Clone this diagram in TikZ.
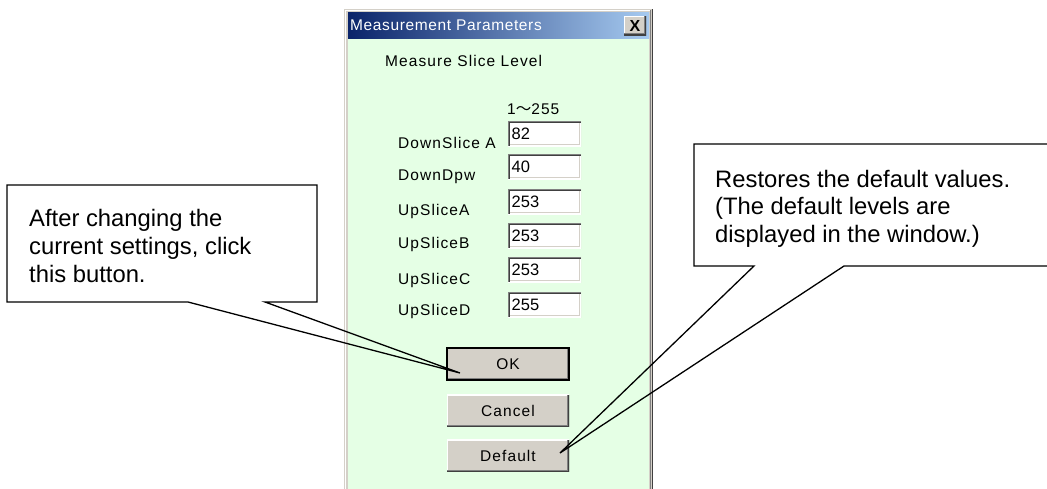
\documentclass[tikz,border=0pt]{standalone}
\usepackage{fontspec}
\setmainfont{Liberation Sans}
\newfontfamily\uifont[LetterSpace=7]{Liberation Sans}
\newfontfamily\titlefont[LetterSpace=4]{Liberation Sans}
\newfontfamily\cjkfont{Noto Sans CJK JP}
\definecolor{titleL}{HTML}{0A246A}
\definecolor{titleR}{HTML}{A6CAF0}
\definecolor{bodygreen}{RGB}{229,255,229}
\definecolor{btnface}{HTML}{D4D0C8}
\definecolor{btnshadow}{HTML}{808080}
\definecolor{btndark}{HTML}{404040}
\begin{document}
\begin{tikzpicture}[x=1pt,y=-1pt,
  uitext/.style={font=\uifont\fontsize{15.5}{18}\selectfont, inner sep=0pt, text=black},
  valtext/.style={font=\fontsize{16.5}{19}\selectfont, inner sep=0pt, anchor=base west},
  calltext/.style={font=\fontsize{23.8}{27.5}\selectfont, inner sep=0pt, anchor=base west},
  callout/.style={draw=black, line width=1.3pt, line join=miter},
  raised/.style={fill=btnface, inner sep=0pt, path picture={
     \draw[white,line width=2pt] (path picture bounding box.south west) -- (path picture bounding box.north west) -- (path picture bounding box.north east);
     \draw[btnshadow,line width=4pt] (path picture bounding box.south west) -- (path picture bounding box.south east) -- (path picture bounding box.north east);
     \draw[btndark,line width=2pt] (path picture bounding box.south west) -- (path picture bounding box.south east) -- (path picture bounding box.north east);
  }},
  uibtn/.style={raised, uitext, minimum width=122pt, minimum height=32pt},
  field/.style={fill=white, minimum width=73pt, minimum height=25pt, inner sep=0pt, anchor=north west, path picture={
     \draw[btnface,line width=4pt] (path picture bounding box.south west) -- (path picture bounding box.south east) -- (path picture bounding box.north east);
     \draw[white,line width=2pt] (path picture bounding box.south west) -- (path picture bounding box.south east) -- (path picture bounding box.north east);
     \draw[btndark,line width=4pt] (path picture bounding box.south west) -- (path picture bounding box.north west) -- (path picture bounding box.north east);
     \draw[btnshadow,line width=2pt] (path picture bounding box.south west) -- (path picture bounding box.north west) -- (path picture bounding box.north east);
  }},
  lbl/.style={uitext, anchor=base west},
]
\useasboundingbox (0,0) rectangle (1047,488);
\fill[white] (0,0) rectangle (1047,488);

% window frame
\fill[btnface] (344,9) rectangle (653,500);
\draw[white, line width=1pt] (345.5,500) -- (345.5,10.5) -- (651,10.5);
\draw[btnshadow, line width=1pt] (650.5,10) -- (650.5,500);
\draw[btndark, line width=1pt] (652.5,9) -- (652.5,500);
\fill[bodygreen] (348,38) rectangle (649,500);
\shade[left color=titleL, right color=titleR] (348,12) rectangle (649,38);

% title bar
\node[inner sep=0pt, text=white, anchor=base west, font=\titlefont\fontsize{15.5}{18}\selectfont] (title) at (350,30.5) {Measurement Parameters};
\node[raised, minimum width=22pt, minimum height=19pt] (close) at (635,25.5) {};
\node[font=\bfseries\fontsize{16}{18}\selectfont, inner sep=0pt] (closex) at (635,25.5) {X};

% texts
\node[lbl] (heading) at (385,66) {Measure Slice Level};
\node[lbl] (range) at (507,114) {1{\cjkfont ～}255};

\node[lbl] (l1) at (398,148) {DownSlice A};
\node[lbl] (l2) at (398,180) {DownDpw};
\node[lbl] (l3) at (398,215) {UpSliceA};
\node[lbl] (l4) at (398,248) {UpSliceB};
\node[lbl] (l5) at (398,284) {UpSliceC};
\node[lbl] (l6) at (398,315) {UpSliceD};

\node[field] (f1) at (508,121) {};
\node[field] (f2) at (508,154) {};
\node[field] (f3) at (508,189) {};
\node[field] (f4) at (508,223) {};
\node[field] (f5) at (508,257) {};
\node[field] (f6) at (508,292) {};
\node[valtext] (v1) at (511.5,139) {82};
\node[valtext] (v2) at (511.5,172) {40};
\node[valtext] (v3) at (511.5,207) {253};
\node[valtext] (v4) at (511.5,241) {253};
\node[valtext] (v5) at (511.5,275) {253};
\node[valtext] (v6) at (511.5,310) {255};

% buttons
\node[uibtn, draw=black, line width=1.5pt] (ok) at (508,364) {OK};
\node[uibtn] (cancel) at (508,410.5) {Cancel};
\node[uibtn] (default) at (508,455.5) {Default};

\coordinate (oktip) at (460,373);
\coordinate (deftip) at (560,453);

% callouts
\draw[callout] (7,185) -- (317,185) -- (317,302) -- (265,302) -- (oktip) -- (188,302) -- (7,302) -- cycle;
\node[calltext] (c1a) at (29,226.5) {After changing the};
\node[calltext] (c1b) at (29,254.5) {current settings, click};
\node[calltext] (c1c) at (29,282.5) {this button.};

\draw[callout] (694,144) -- (1060,144) -- (1060,266) -- (844,266) -- (deftip) -- (754,266) -- (694,266) -- cycle;
\node[calltext] (c2a) at (715,187) {Restores the default values.};
\node[calltext] (c2b) at (715,214.5) {(The default levels are};
\node[calltext] (c2c) at (715,242) {displayed in the window.)};
\end{tikzpicture}
\end{document}
